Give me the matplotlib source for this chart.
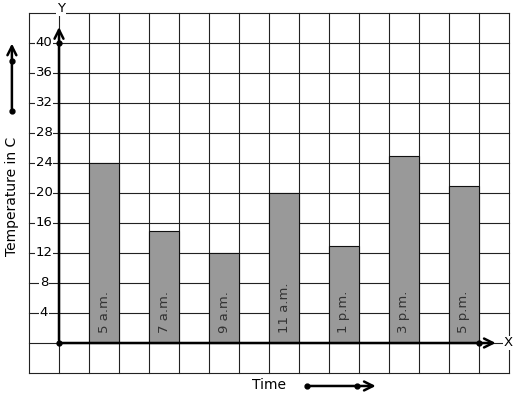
import numpy as np
import matplotlib
matplotlib.use("Agg")
import matplotlib.pyplot as plt

# data
times = ["5 a.m.", "7 a.m.", "9 a.m.", "11 a.m.", "1 p.m.", "3 p.m.", "5 p.m."]
temps = [24, 15, 12, 20, 13, 25, 21]
y_ticks = [4, 8, 12, 16, 20, 24, 28, 32, 36, 40]

W, H = 517, 399
fig = plt.figure(figsize=(W / 100, H / 100), dpi=100)
# grid spans px 29..509 horizontally, 13..373 vertically
ax = fig.add_axes([29 / W, (H - 373) / H, 480 / W, 360 / H])
ax.set_xlim(-1, 15)
ax.set_ylim(-4, 44)
ax.axis("off")

# grid
for gx in range(-1, 16):
    ax.plot([gx, gx], [-4, 44], color="#222222", lw=0.8, zorder=1, clip_on=False)
for gy in range(-4, 45, 4):
    ax.plot([-1, 15], [gy, gy], color="#222222", lw=0.8, zorder=1, clip_on=False)

# bars
xpos = np.arange(len(times)) * 2 + 1
ax.bar(xpos, temps, width=1, align="edge", color="#999999",
       edgecolor="#111111", linewidth=0.8, zorder=2)
for x, lab in zip(xpos, times):
    ax.text(x + 0.5, 1.3, lab, rotation=90, ha="center", va="bottom",
            fontsize=9.5, color="#333333", zorder=3)

# axes with arrows
arr = dict(arrowstyle="->", lw=1.8, color="black", mutation_scale=16)
ax.annotate("", xy=(0, 42.5), xytext=(0, 0), arrowprops=arr,
            annotation_clip=False, zorder=4)
ax.annotate("", xy=(14.65, 0), xytext=(0, 0), arrowprops=arr,
            annotation_clip=False, zorder=4)
ax.plot([0, 0, 14], [0, 40, 0], "o", color="black", ms=3.5, zorder=5)
ax.text(0.07, 44.6, "Y", ha="center", va="center", fontsize=9.5,
        bbox=dict(fc="white", ec="none", pad=0.5), zorder=5, clip_on=False)
ax.text(14.97, 0, "X", ha="center", va="center", fontsize=9.5,
        bbox=dict(fc="white", ec="none", pad=0.5), zorder=5, clip_on=False)

# y tick labels
for t in y_ticks:
    ax.text(-0.5, t, str(t), ha="center", va="center", fontsize=9.5,
            bbox=dict(fc="white", ec="none", pad=0.3), zorder=3)

# axis titles with direction arrows
ax.text(-1.55, 19.5, "Temperature in C", rotation=90, ha="center",
        va="center", fontsize=10)
ax.annotate("", xy=(-1.57, 40.3), xytext=(-1.57, 30.9), arrowprops=arr,
            annotation_clip=False)
ax.plot([-1.57, -1.57], [30.9, 37.6], "o", color="black", ms=3.5,
        clip_on=False)

ax.text(7.0, -5.6, "Time", ha="center", va="center", fontsize=10)
ax.annotate("", xy=(10.65, -5.73), xytext=(8.27, -5.73), arrowprops=arr,
            annotation_clip=False)
ax.plot([8.27, 9.93], [-5.73, -5.73], "o", color="black", ms=3.5,
        clip_on=False)

fig.savefig("out.png", dpi=100)
